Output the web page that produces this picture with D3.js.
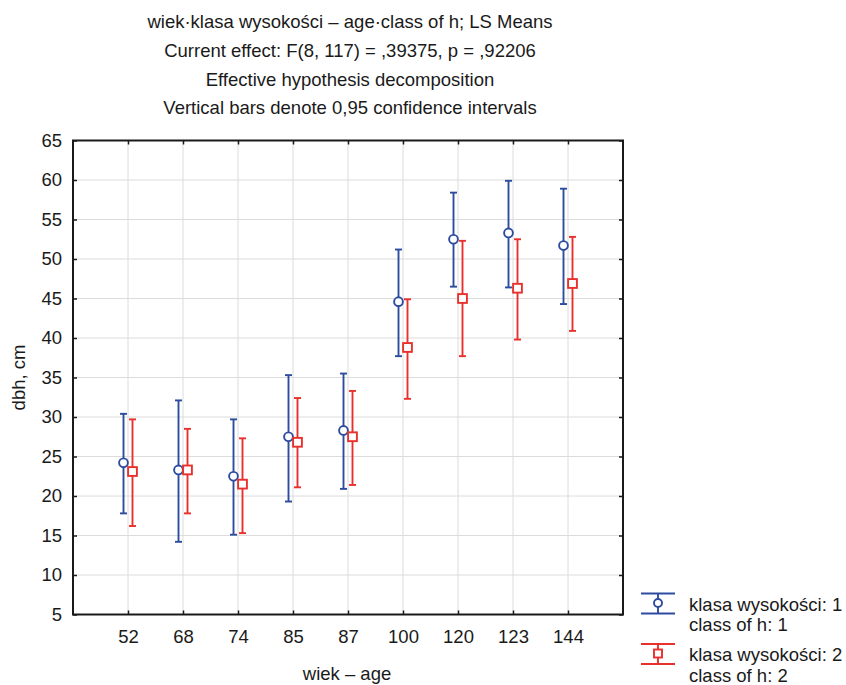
<!DOCTYPE html>
<html>
<head>
<meta charset="utf-8">
<script src="https://cdn.jsdelivr.net/npm/d3@7"></script>
<style>
  html, body { margin: 0; padding: 0; background: #fff; }
  svg text { font-family: "Liberation Sans", Arial, sans-serif; fill: #1a1a1a; }
</style>
</head>
<body>
<svg id="chart" width="846" height="685"></svg>
<script>
// LS means of dbh by age and height class, with 0.95 confidence limits
const ages = ["52", "68", "74", "85", "87", "100", "120", "123", "144"];

const class1Mean  = [24.2, 23.3, 22.5, 27.5, 28.3, 44.6, 52.5, 53.3, 51.7];
const class1Lower = [17.8, 14.2, 15.1, 19.3, 20.9, 37.7, 46.5, 46.4, 44.3];
const class1Upper = [30.4, 32.1, 29.7, 35.3, 35.5, 51.2, 58.4, 59.9, 58.9];

const class2Mean  = [23.1, 23.3, 21.5, 26.8, 27.5, 38.8, 45.0, 46.3, 46.9];
const class2Lower = [16.2, 17.8, 15.3, 21.1, 21.4, 32.3, 37.7, 39.8, 40.9];
const class2Upper = [29.7, 28.5, 27.3, 32.4, 33.3, 44.9, 52.3, 52.5, 52.8];

const yTicks = [5, 10, 15, 20, 25, 30, 35, 40, 45, 50, 55, 60, 65];

const titleLines = [
  "wiek·klasa wysokości – age·class of h; LS Means",
  "Current effect: F(8, 117) = ,39375, p = ,92206",
  "Effective hypothesis decomposition",
  "Vertical bars denote 0,95 confidence intervals"
];

const seriesNames = [
  ["klasa wysokości: 1", "class of h: 1"],
  ["klasa wysokości: 2", "class of h: 2"]
];

const BLUE = "#2d4c9f";
const RED = "#e8302c";
const FS = 18.5;

const svg = d3.select("#chart");
const plot = { left: 73, right: 623, top: 140.5, bottom: 614.5 };

const x = d3.scalePoint().domain(ages).range([plot.left, plot.right]).padding(1);
const y = d3.scaleLinear().domain([5, 65]).range([plot.bottom, plot.top]);

// Title block
svg.append("g").selectAll("text").data(titleLines).join("text")
  .attr("x", 350).attr("y", (d, i) => 28.2 + i * 28.7)
  .attr("text-anchor", "middle").attr("font-size", FS)
  .text(d => d);

// Grid
const grid = svg.append("g").attr("stroke", "#dcdcdc").attr("stroke-width", 1);
grid.selectAll(".gy").data(yTicks.slice(1, -1)).join("line")
  .attr("x1", plot.left).attr("x2", plot.right)
  .attr("y1", d => y(d)).attr("y2", d => y(d));
grid.selectAll(".gx").data(ages).join("line")
  .attr("x1", d => x(d)).attr("x2", d => x(d))
  .attr("y1", plot.top).attr("y2", plot.bottom);

// Axes with inward ticks on all four sides
const tickLen = 4;
const axisLeft = d3.axisLeft(y).tickValues(yTicks).tickSize(-tickLen).tickPadding(11);
const axisRight = d3.axisRight(y).tickValues(yTicks).tickSize(-tickLen).tickFormat("");
const axisBottom = d3.axisBottom(x).tickSize(-tickLen).tickPadding(15);
const axisTop = d3.axisTop(x).tickSize(-tickLen).tickFormat("");

function styleAxis(g) {
  g.select(".domain").remove();
  g.selectAll(".tick line").attr("stroke", "#1a1a1a").attr("stroke-width", 1.5);
  g.selectAll(".tick text").attr("font-size", FS)
    .attr("font-family", "Liberation Sans, Arial, sans-serif").attr("fill", "#1a1a1a");
}
svg.append("g").attr("transform", `translate(${plot.left},0)`).call(axisLeft).call(styleAxis);
svg.append("g").attr("transform", `translate(${plot.right},0)`).call(axisRight).call(styleAxis);
svg.append("g").attr("transform", `translate(0,${plot.bottom})`).call(axisBottom).call(styleAxis);
svg.append("g").attr("transform", `translate(0,${plot.top})`).call(axisTop).call(styleAxis);

// Frame
svg.append("rect")
  .attr("x", plot.left).attr("y", plot.top)
  .attr("width", plot.right - plot.left).attr("height", plot.bottom - plot.top)
  .attr("fill", "none").attr("stroke", "#1a1a1a").attr("stroke-width", 2);

// Axis titles
svg.append("text").attr("x", 347).attr("y", 680)
  .attr("text-anchor", "middle").attr("font-size", FS).text("wiek – age");
svg.append("text")
  .attr("transform", `translate(25,${(plot.top + plot.bottom) / 2}) rotate(-90)`)
  .attr("text-anchor", "middle").attr("font-size", FS).text("dbh, cm");

// Series
const series = [
  { mean: class1Mean, lower: class1Lower, upper: class1Upper, color: BLUE, dx: -4.5, shape: "circle" },
  { mean: class2Mean, lower: class2Lower, upper: class2Upper, color: RED, dx: 4.5, shape: "square" }
];
const capHalf = 3.5;
const markR = 4.4;

series.forEach(s => {
  const g = svg.append("g").attr("stroke", s.color).attr("stroke-width", 1.9).attr("fill", "none");
  const rows = ages.map((a, i) => ({ a, m: s.mean[i], lo: s.lower[i], hi: s.upper[i] }));
  g.selectAll(".bar").data(rows).join("line")
    .attr("x1", d => x(d.a) + s.dx).attr("x2", d => x(d.a) + s.dx)
    .attr("y1", d => y(d.lo)).attr("y2", d => y(d.hi));
  g.selectAll(".capHi").data(rows).join("line")
    .attr("x1", d => x(d.a) + s.dx - capHalf).attr("x2", d => x(d.a) + s.dx + capHalf)
    .attr("y1", d => y(d.hi)).attr("y2", d => y(d.hi));
  g.selectAll(".capLo").data(rows).join("line")
    .attr("x1", d => x(d.a) + s.dx - capHalf).attr("x2", d => x(d.a) + s.dx + capHalf)
    .attr("y1", d => y(d.lo)).attr("y2", d => y(d.lo));
  if (s.shape === "circle") {
    g.selectAll(".mk").data(rows).join("circle")
      .attr("cx", d => x(d.a) + s.dx).attr("cy", d => y(d.m)).attr("r", markR)
      .attr("fill", "#fff");
  } else {
    g.selectAll(".mk").data(rows).join("rect")
      .attr("x", d => x(d.a) + s.dx - markR).attr("y", d => y(d.m) - markR)
      .attr("width", markR * 2).attr("height", markR * 2)
      .attr("fill", "#fff");
  }
});

// Legend
const legend = svg.append("g");
series.forEach((s, i) => {
  const top = 593.5 + i * 50.5;
  const g = legend.append("g").attr("stroke", s.color).attr("stroke-width", 1.9).attr("fill", "none");
  g.append("line").attr("x1", 641).attr("x2", 675).attr("y1", top).attr("y2", top);
  g.append("line").attr("x1", 641).attr("x2", 675).attr("y1", top + 20).attr("y2", top + 20);
  g.append("line").attr("x1", 658).attr("x2", 658).attr("y1", top).attr("y2", top + 20);
  if (s.shape === "circle") {
    g.append("circle").attr("cx", 658).attr("cy", top + 9.5).attr("r", 4).attr("fill", "#fff");
  } else {
    g.append("rect").attr("x", 654).attr("y", top + 5.5).attr("width", 8).attr("height", 8).attr("fill", "#fff");
  }
  legend.append("g").selectAll("text").data(seriesNames[i]).join("text")
    .attr("x", 689).attr("y", (d, j) => top + 17 + j * 20.5)
    .attr("font-size", FS).text(d => d);
});
</script>
</body>
</html>
